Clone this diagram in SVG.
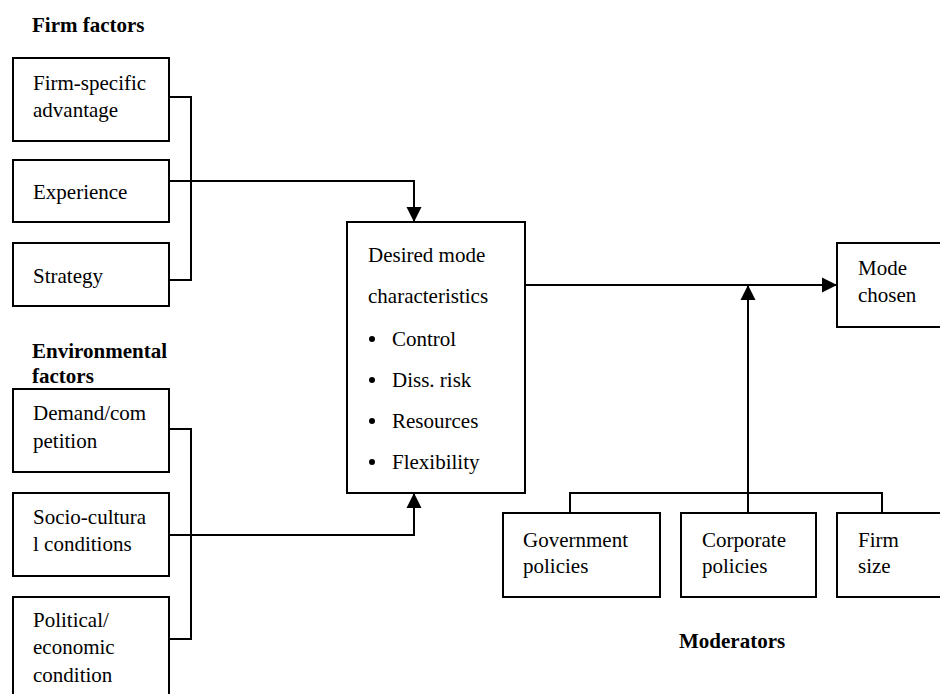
<svg xmlns="http://www.w3.org/2000/svg" width="940" height="694" viewBox="0 0 940 694" font-family="'Liberation Serif', 'Times New Roman', Times, 'DejaVu Serif', serif">
<style>
text{font-family:'Liberation Serif','Times New Roman',Times,'DejaVu Serif',serif;font-size:21px;fill:#000}
.h{font-weight:bold}
.box{fill:#fff;stroke:#000;stroke-width:2}
.ln{fill:none;stroke:#000;stroke-width:2}
</style>
<defs>
<marker id="arr" markerUnits="userSpaceOnUse" markerWidth="16" markerHeight="16" refX="15" refY="8" orient="auto">
<path d="M0,0.5 L15,8 L0,15.5 z" fill="#000"/>
</marker>
</defs>
<rect width="940" height="694" fill="#fff"/>
<text class="h" x="32" y="32">Firm factors</text>
<text class="h" x="32" y="358">Environmental</text>
<text class="h" x="32" y="383">factors</text>
<text class="h" x="679" y="648">Moderators</text>

<g id="connectors">
<path class="ln" d="M166,97 H191 V280 H169"/>
<path class="ln" d="M169,181 H414 V222" marker-end="url(#arr)"/>
<path class="ln" d="M169,429 H191 V639 H169"/>
<path class="ln" d="M169,535 H414 V493" marker-end="url(#arr)"/>
<path class="ln" d="M525,285 H837" marker-end="url(#arr)"/>
<path class="ln" d="M748,513 V285" marker-end="url(#arr)"/>
<path class="ln" d="M570,513 V493 H882 V513"/>
</g>

<g id="firm-specific"><rect class="box" x="13" y="58" width="156" height="83"/><text x="33" y="90">Firm-specific</text><text x="33" y="117">advantage</text></g>
<g id="experience"><rect class="box" x="13" y="160" width="156" height="62"/><text x="33" y="199">Experience</text></g>
<g id="strategy"><rect class="box" x="13" y="243" width="156" height="63"/><text x="33" y="283">Strategy</text></g>
<g id="demand"><rect class="box" x="13" y="389" width="156" height="83"/><text x="33" y="420">Demand/com</text><text x="33" y="448">petition</text></g>
<g id="socio"><rect class="box" x="13" y="493" width="156" height="83"/><text x="33" y="524">Socio-cultura</text><text x="33" y="551">l conditions</text></g>
<g id="political"><rect class="box" x="13" y="597" width="156" height="120"/><text x="33" y="627">Political/</text><text x="33" y="654">economic</text><text x="33" y="682">condition</text></g>

<g id="desired"><rect class="box" x="347" y="222" width="178" height="271"/>
<text x="368" y="262">Desired mode</text>
<text x="368" y="303">characteristics</text>
<circle cx="372" cy="339" r="3"/><text x="392" y="346">Control</text>
<circle cx="372" cy="380" r="3"/><text x="392" y="387">Diss. risk</text>
<circle cx="372" cy="421" r="3"/><text x="392" y="428">Resources</text>
<circle cx="372" cy="462" r="3"/><text x="392" y="469">Flexibility</text>
</g>
<g id="mode-chosen"><rect class="box" x="837" y="243" width="120" height="84"/><text x="858" y="275">Mode</text><text x="858" y="302">chosen</text></g>
<g id="government"><rect class="box" x="503" y="513" width="157" height="84"/><text x="523" y="547">Government</text><text x="523" y="573">policies</text></g>
<g id="corporate"><rect class="box" x="681" y="513" width="135" height="84"/><text x="702" y="547">Corporate</text><text x="702" y="573">policies</text></g>
<g id="firm-size"><rect class="box" x="837" y="513" width="120" height="84"/><text x="858" y="547">Firm</text><text x="858" y="573">size</text></g>
</svg>
